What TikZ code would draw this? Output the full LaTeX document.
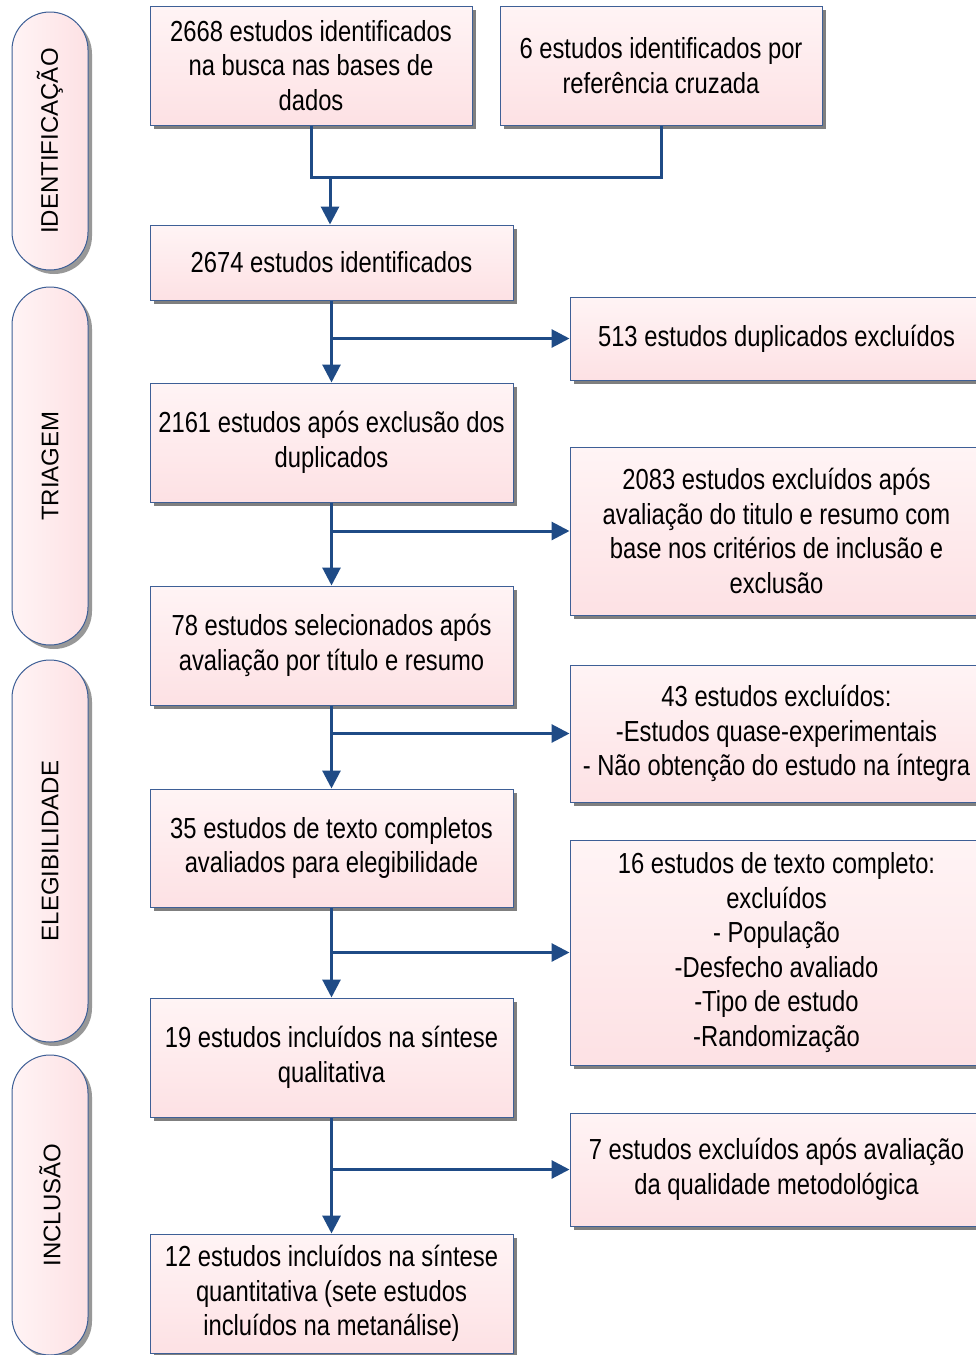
\documentclass[tikz,border=0pt]{standalone}
\usepackage{fontspec}
\setmainfont[FakeStretch=0.82]{Liberation Sans}
\newfontfamily\labelfont{Liberation Sans}
\usetikzlibrary{arrows.meta,shadows}
\definecolor{bordercol}{HTML}{3E5F96}
\definecolor{arrowcol}{HTML}{1F4B86}
\definecolor{filltop}{HTML}{FFF4F5}
\definecolor{fillbot}{HTML}{FDE1E4}
\definecolor{shadowcol}{HTML}{7F7F7F}
\tikzset{
  flowbox/.style={draw=bordercol, line width=1pt, shading=axis, top color=filltop, bottom color=fillbot,
    drop shadow={shadow xshift=4pt, shadow yshift=-4pt, fill=shadowcol, opacity=1},
    align=center, inner sep=0pt, font=\fontsize{29}{34.5}\selectfont, text=black},
  phase/.style={draw=bordercol, line width=1pt, rounded corners=38pt, shading=axis, left color=filltop, right color=fillbot,
    drop shadow={shadow xshift=4pt, shadow yshift=-4pt, fill=shadowcol, opacity=0.8},
    minimum width=76pt, inner sep=0pt},
  conn/.style={draw=arrowcol, line width=3pt},
  arr/.style={conn, -{Triangle[length=18pt,width=18pt]}},
}
\begin{document}
\begin{tikzpicture}[x=1pt,y=-1pt]
\clip (0,0) rectangle (976,1355);
\fill[white] (0,0) rectangle (976,1355);
% phase labels
\node[phase, minimum height=258pt] (p1) at (50,141) {};
\node[rotate=90, font=\labelfont\fontsize{24}{28}\selectfont] (t1) at (p1.center) {IDENTIFICAÇÃO};
\node[phase, minimum height=358pt] (p2) at (50,466) {};
\node[rotate=90, font=\labelfont\fontsize{24}{28}\selectfont] (t2) at (p2.center) {TRIAGEM};
\node[phase, minimum height=382pt] (p3) at (50,851) {};
\node[rotate=90, font=\labelfont\fontsize{24}{28}\selectfont] (t3) at (p3.center) {ELEGIBILIDADE};
\node[phase, minimum height=300pt] (p4) at (50,1205) {};
\node[rotate=90, font=\labelfont\fontsize{24}{28}\selectfont] (t4) at (p4.center) {INCLUSÃO};
% left column
\node[flowbox, minimum width=322pt, minimum height=119pt] (b1) at (311,65.5) {2668 estudos identificados\\na busca nas bases de\\dados};
\node[flowbox, minimum width=322pt, minimum height=119pt] (b2) at (661,65.5) {6 estudos identificados por\\referência cruzada};
\node[flowbox, minimum width=363pt, minimum height=75pt] (b3) at (331.5,262.5) {2674 estudos identificados};
\node[flowbox, minimum width=363pt, minimum height=119pt] (b4) at (331.5,442.5) {2161 estudos após exclusão dos\\duplicados};
\node[flowbox, minimum width=363pt, minimum height=119pt] (b5) at (331.5,645.5) {78 estudos selecionados após\\avaliação por título e resumo};
\node[flowbox, minimum width=363pt, minimum height=118pt] (b6) at (331.5,848) {35 estudos de texto completos\\avaliados para elegibilidade};
\node[flowbox, minimum width=363pt, minimum height=119pt] (b7) at (331.5,1057.5) {19 estudos incluídos na síntese\\qualitativa};
\node[flowbox, minimum width=363pt, minimum height=119pt] (b8) at (331.5,1293.5) {12 estudos incluídos na síntese\\quantitativa (sete estudos\\incluídos na metanálise)};
% right column
\node[flowbox, minimum width=413pt, minimum height=83pt] (r1) at (776.5,338.5) {513 estudos duplicados excluídos};
\node[flowbox, minimum width=413pt, minimum height=168pt] (r2) at (776.5,531) {2083 estudos excluídos após\\avaliação do titulo e resumo com\\base nos critérios de inclusão e\\exclusão};
\node[flowbox, minimum width=413pt, minimum height=137pt] (r3) at (776.5,733.5) {43 estudos excluídos:\\-Estudos quase-experimentais\\- Não obtenção do estudo na íntegra};
\node[flowbox, minimum width=413pt, minimum height=225pt] (r4) at (776.5,952.5) {16 estudos de texto completo:\\excluídos\\- População\\-Desfecho avaliado\\-Tipo de estudo\\-Randomização};
\node[flowbox, minimum width=413pt, minimum height=113pt] (r5) at (776.5,1169.5) {7 estudos excluídos após avaliação\\da qualidade metodológica};
% connectors
\coordinate (m) at (330,177);
\draw[conn] (b1.south) |- (m);
\draw[conn] (m) -| (b2.south);
\draw[arr] (m) -- (m |- b3.north);
\draw[arr] (b3.south) -- (b4.north);
\draw[arr] (b3.south |- r1.west) -- (r1.west);
\draw[arr] (b4.south) -- (b5.north);
\draw[arr] (b4.south |- r2.west) -- (r2.west);
\draw[arr] (b5.south) -- (b6.north);
\draw[arr] (b5.south |- r3.west) -- (r3.west);
\draw[arr] (b6.south) -- (b7.north);
\draw[arr] (b6.south |- r4.west) -- (r4.west);
\draw[arr] (b7.south) -- (b8.north);
\draw[arr] (b7.south |- r5.west) -- (r5.west);
\end{tikzpicture}
\end{document}
